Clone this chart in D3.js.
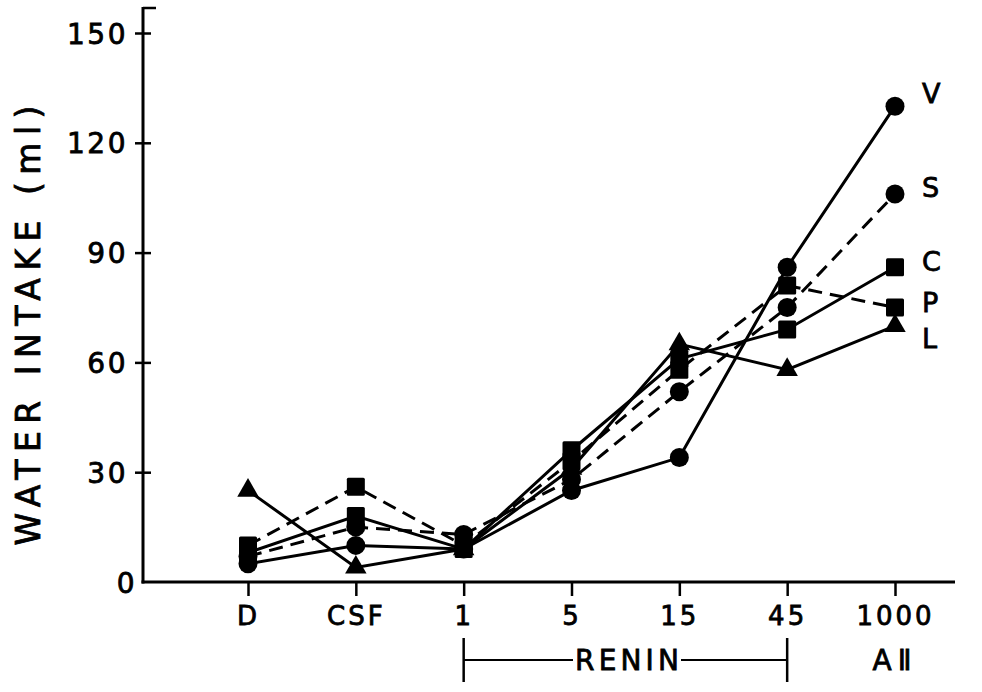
<!DOCTYPE html>
<html>
<head>
<meta charset="utf-8">
<script src="https://cdn.jsdelivr.net/npm/d3@7"></script>
<style>
  html, body { margin: 0; padding: 0; background: #fff; }
  svg { display: block; }
  text { font-family: "DejaVu Sans", "Liberation Sans", sans-serif; fill: #000; stroke: #000; stroke-width: 0.8px; }
</style>
</head>
<body>
<svg id="chart" width="982" height="692"></svg>
<script>
// ---- data ----
const categories = ["D", "CSF", "1", "5", "15", "45", "1000"];
const yTicks = [0, 30, 60, 90, 120, 150];
const seriesNames = ["V", "S", "C", "P", "L"];
const seriesV = [5, 10, 9, 25, 34, 86, 130];
const seriesS = [7, 15, 13, 28, 52, 75, 106];
const seriesC = [8, 18, 9, 36, 61, 69, 86];
const seriesP = [10, 26, 10, 33, 58, 81, 75];
const seriesL = [25, 4, 9, 31, 65, 58, 70];
const markers = { V: "circle", S: "circle", C: "square", P: "square", L: "triangle" };
const dashed = { V: false, S: true, C: false, P: true, L: false };
const values = { V: seriesV, S: seriesS, C: seriesC, P: seriesP, L: seriesL };
const yTitle = "WATER INTAKE (ml)";
const reninLabel = "RENIN";
const a2Label = "A\u2161";

// ---- layout ----
const svg = d3.select("#chart");
const x = d3.scalePoint().domain(categories).range([248, 895]);
const y = d3.scaleLinear().domain([0, 150]).range([582, 33]);
const x0 = 143, xEnd = 955, yTop = 7;

// axis lines
svg.append("line").attr("x1", x0).attr("x2", x0).attr("y1", yTop).attr("y2", y(0) + 1.5)
  .attr("stroke", "#000").attr("stroke-width", 3);
svg.append("line").attr("x1", x0).attr("x2", x0 + 13).attr("y1", yTop + 1).attr("y2", yTop + 1)
  .attr("stroke", "#000").attr("stroke-width", 2.5);
svg.append("line").attr("x1", x0 - 1.5).attr("x2", xEnd).attr("y1", y(0)).attr("y2", y(0))
  .attr("stroke", "#000").attr("stroke-width", 3);

// y axis
const yAxis = svg.append("g").attr("transform", `translate(${x0},0)`)
  .call(d3.axisLeft(y).tickValues(yTicks).tickSize(8).tickPadding(14));
yAxis.select(".domain").remove();
yAxis.attr("font-family", null).attr("font-size", null);
yAxis.selectAll(".tick line").attr("x1", -8).attr("x2", 8).attr("stroke-width", 2.5)
  .attr("stroke", d => d === 0 ? "none" : "#000");
yAxis.selectAll(".tick text").attr("font-size", 28).attr("fill", "#000")
  .style("letter-spacing", "2.5px").attr("dy", "0.36em")
  .attr("x", d => d === 0 ? -6 : -15);

// x axis
const xAxis = svg.append("g").attr("transform", `translate(0,${y(0)})`)
  .call(d3.axisBottom(x).tickSize(14).tickPadding(11));
xAxis.select(".domain").remove();
xAxis.attr("font-family", null).attr("font-size", null);
xAxis.selectAll(".tick line").attr("stroke-width", 2.5);
xAxis.selectAll(".tick text").attr("font-size", 26).attr("fill", "#000")
  .style("letter-spacing", "3px");

// y title
svg.append("text")
  .attr("transform", `translate(40,${(y(0) + y(150)) / 2 + 18}) rotate(-90)`)
  .attr("text-anchor", "middle")
  .attr("font-size", 33)
  .attr("textLength", 440).attr("lengthAdjust", "spacing")
  .text(yTitle);

// renin bracket
const rx1 = x("1"), rx2 = x("45"), by = 660;
svg.append("line").attr("x1", rx1).attr("x2", rx1).attr("y1", by - 22).attr("y2", by + 22)
  .attr("stroke", "#000").attr("stroke-width", 2.5);
svg.append("line").attr("x1", rx2).attr("x2", rx2).attr("y1", by - 22).attr("y2", by + 22)
  .attr("stroke", "#000").attr("stroke-width", 2.5);
svg.append("line").attr("x1", rx1).attr("x2", 573).attr("y1", by).attr("y2", by)
  .attr("stroke", "#000").attr("stroke-width", 2);
svg.append("line").attr("x1", 681).attr("x2", rx2).attr("y1", by).attr("y2", by)
  .attr("stroke", "#000").attr("stroke-width", 2);
svg.append("text").attr("x", 627).attr("y", by + 10).attr("text-anchor", "middle")
  .attr("font-size", 28).attr("textLength", 104).attr("lengthAdjust", "spacing").text(reninLabel);
svg.append("text").attr("x", x("1000")).attr("y", by + 10).attr("text-anchor", "middle")
  .attr("font-size", 28).style("letter-spacing", "6px").text(a2Label);

// series
const line = d3.line().x((d, i) => x(categories[i])).y(d => y(d));
const order = ["L", "C", "P", "S", "V"];
order.forEach(name => {
  const vals = values[name];
  svg.append("path").datum(vals).attr("d", line)
    .attr("fill", "none").attr("stroke", "#000").attr("stroke-width", 3)
    .attr("stroke-dasharray", dashed[name] ? "14,8" : null);
});
order.forEach(name => {
  const vals = values[name];
  const g = svg.append("g");
  vals.forEach((v, i) => {
    const cx = x(categories[i]), cy = y(v);
    if (markers[name] === "circle") {
      g.append("circle").attr("cx", cx).attr("cy", cy).attr("r", 9.5).attr("fill", "#000");
    } else if (markers[name] === "square") {
      g.append("rect").attr("x", cx - 9).attr("y", cy - 9).attr("width", 18).attr("height", 18)
        .attr("rx", 1.5).attr("fill", "#000");
    } else {
      g.append("path").attr("d", d3.symbol(d3.symbolTriangle, 200)()).attr("transform", `translate(${cx},${cy})`)
        .attr("fill", "#000");
    }
  });
  const last = vals[vals.length - 1];
  const labelOffsets = { V: -13, S: -7, C: -6, P: -5, L: 12 };
  svg.append("text").attr("x", 922).attr("y", y(last) + labelOffsets[name]).attr("dy", "0.36em")
    .attr("font-size", 27).text(name);
});
</script>
</body>
</html>
